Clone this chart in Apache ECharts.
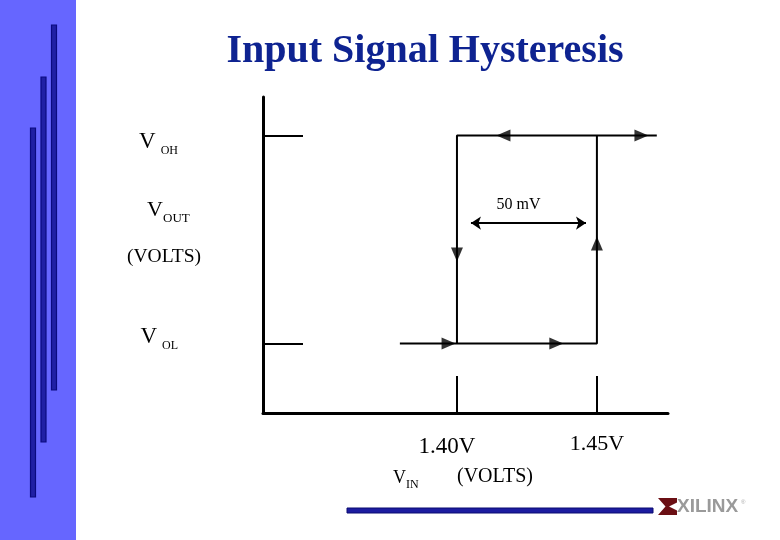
<!DOCTYPE html>
<html><head><meta charset="utf-8">
<script src="https://cdn.jsdelivr.net/npm/echarts@6/dist/echarts.min.js"></script>
<style>html,body{margin:0;padding:0;background:#fff}#c{width:780px;height:540px}</style>
</head><body><div id="c"></div>
<script>
// ---- data ----
const TITLE = 'Input Signal Hysteresis';
const X_MIN = 1.3307, X_MAX = 1.4754;          // input voltage range shown (V)
const Y_MIN = -0.334, Y_MAX = 1.185;           // output level (0 = VOL, 1 = VOH)
const X_TICK_VALUES = [1.40, 1.45];
const X_TICK_LABELS = ['1.40V', '1.45V'];
const Y_TICK_VALUES = [0, 1];
const Y_TICK_SUBS = ['OL', 'OH'];
const LOOP_X = [1.3796, 1.45, 1.45, 1.4714, 1.40, 1.40];
const LOOP_Y = [0, 0, 1, 1, 1, 0];
const ARROW_X = [1.4166, 1.4659, 1.397, 1.4355, 1.40, 1.45];
const ARROW_Y = [1, 1, 0, 0, 0.428, 0.481];
const ARROW_DIR = ['left', 'right', 'right', 'right', 'down', 'up'];
const SPAN_X = [1.405, 1.4461];
const SPAN_Y = 0.579;
const SPAN_LABEL = '50 mV';

// ---- chart ----
const SERIF = "'Liberation Serif','Times New Roman',serif";
const ROT = {up: 0, left: 90, down: 180, right: -90};
const chart = echarts.init(document.getElementById('c'), null, {renderer: 'canvas'});

function idxOf(arr, v) {
  let best = 0;
  arr.forEach((a, i) => { if (Math.abs(a - v) < Math.abs(arr[best] - v)) best = i; });
  return best;
}

const yRich = {
  v0: {fontSize: 23, lineHeight: 22, verticalAlign: 'top', fontFamily: SERIF, color: '#000', padding: [0, 0, 0, 0]},
  s0: {fontSize: 12, lineHeight: 12, verticalAlign: 'top', fontFamily: SERIF, color: '#000', padding: [14, 0, 0, 5]},
  v1: {fontSize: 23, lineHeight: 22, verticalAlign: 'top', fontFamily: SERIF, color: '#000', padding: [13, 0, 0, 0]},
  s1: {fontSize: 12, lineHeight: 12, verticalAlign: 'top', fontFamily: SERIF, color: '#000', padding: [27, 0, 0, 5]}
};
const xRich = {
  x0: {fontSize: 23, lineHeight: 23, fontFamily: SERIF, color: '#000', padding: [5, 20, 0, 0]},
  x1: {fontSize: 22, lineHeight: 22, fontFamily: SERIF, color: '#000', padding: [0, 0, 0, 0]}
};

const graphics = [
  {type: 'rect', shape: {x: 0, y: 0, width: 76, height: 540}, style: {fill: '#6666ff'}, silent: true},
  {type: 'rect', shape: {x: 51.5, y: 25, width: 5, height: 365}, style: {fill: '#2020a4', stroke: '#0a0a80', lineWidth: 1.2}},
  {type: 'rect', shape: {x: 41, y: 77, width: 5, height: 365}, style: {fill: '#2020a4', stroke: '#0a0a80', lineWidth: 1.2}},
  {type: 'rect', shape: {x: 30.5, y: 128, width: 5, height: 369}, style: {fill: '#2020a4', stroke: '#0a0a80', lineWidth: 1.2}},
  {type: 'text', x: 425, y: 52, style: {text: TITLE, font: "bold 40px " + SERIF, fill: '#0e2391', align: 'center', verticalAlign: 'middle'}},
  {type: 'text', x: 147, y: 210.6, style: {text: 'V', font: "22px " + SERIF, fill: '#000', align: 'left', verticalAlign: 'middle'}},
  {type: 'text', x: 163, y: 218.6, style: {text: 'OUT', font: "13px " + SERIF, fill: '#000', align: 'left', verticalAlign: 'middle'}},
  {type: 'text', x: 127, y: 256.4, style: {text: '(VOLTS)', font: "19.5px " + SERIF, fill: '#000', align: 'left', verticalAlign: 'middle'}},
  {type: 'text', x: 393, y: 477.9, style: {text: 'V', font: "18px " + SERIF, fill: '#000', align: 'left', verticalAlign: 'middle'}},
  {type: 'text', x: 406, y: 485, style: {text: 'IN', font: "12px " + SERIF, fill: '#000', align: 'left', verticalAlign: 'middle'}},
  {type: 'text', x: 457, y: 477.2, style: {text: '(VOLTS)', font: "20px " + SERIF, fill: '#000', align: 'left', verticalAlign: 'middle'}},
  {type: 'rect', shape: {x: 347, y: 508, width: 306, height: 5}, style: {fill: '#1c1ca0', stroke: '#0a0a70', lineWidth: 1}},
  {type: 'polygon', shape: {points: [[658, 498], [677, 498], [677, 502.5], [669, 506.5], [677, 510.5], [677, 515], [658, 515], [665.5, 506.5]]}, style: {fill: '#6b0f14'}},
  {type: 'text', x: 677, y: 507, style: {text: 'XILINX', font: "bold 19px 'Liberation Sans',Arial,sans-serif", fill: '#9a9a9a', align: 'left', verticalAlign: 'middle'}},
  {type: 'text', x: 741, y: 502, style: {text: '®', font: "6px 'Liberation Sans',Arial,sans-serif", fill: '#aaa', align: 'left', verticalAlign: 'middle'}}
];

const option = {
  animation: false,
  backgroundColor: '#fff',
  grid: {left: 263, top: 97, width: 405, height: 316, containLabel: false},
  xAxis: {
    type: 'value', min: X_MIN, max: X_MAX,
    splitLine: {show: false},
    axisLine: {onZero: false, lineStyle: {color: '#000', width: 3}},
    axisTick: {show: true, inside: true, length: 37, customValues: X_TICK_VALUES, lineStyle: {color: '#000', width: 2}},
    axisLabel: {
      show: true, margin: 20, customValues: X_TICK_VALUES,
      formatter: v => { const i = idxOf(X_TICK_VALUES, v); return '{x' + i + '|' + X_TICK_LABELS[i] + '}'; },
      rich: xRich
    }
  },
  yAxis: {
    type: 'value', min: Y_MIN, max: Y_MAX,
    splitLine: {show: false},
    axisLine: {onZero: false, lineStyle: {color: '#000', width: 3}},
    axisTick: {show: true, inside: true, length: 40, customValues: Y_TICK_VALUES, lineStyle: {color: '#000', width: 2}},
    axisLabel: {
      show: true, margin: 85, customValues: Y_TICK_VALUES, padding: [0, 0, 14, 0],
      formatter: v => { const i = idxOf(Y_TICK_VALUES, v); return '{v' + i + '|V}{s' + i + '|' + Y_TICK_SUBS[i] + '}'; },
      rich: yRich
    }
  },
  series: [
    {
      type: 'line', data: LOOP_X.map((x, i) => [x, LOOP_Y[i]]),
      showSymbol: false, symbol: 'none', lineStyle: {color: '#000', width: 2}, z: 3
    },
    {
      type: 'scatter', symbol: 'triangle', symbolSize: [12, 14],
      itemStyle: {color: '#000'}, z: 4,
      data: ARROW_X.map((x, i) => ({value: [x, ARROW_Y[i]], symbolRotate: ROT[ARROW_DIR[i]]}))
    },
    {
      type: 'lines', coordinateSystem: 'cartesian2d', polyline: false,
      symbol: ['arrow', 'arrow'], symbolSize: 10,
      lineStyle: {color: '#000', width: 2, opacity: 1},
      label: {show: true, position: 'middle', formatter: SPAN_LABEL, fontFamily: SERIF, fontSize: 16, color: '#000', distance: 10, padding: [0, 20, 0, 0]},
      data: [{coords: [[SPAN_X[0], SPAN_Y], [SPAN_X[1], SPAN_Y]]}]
    }
  ],
  graphic: graphics
};
chart.setOption(option);
</script>
</body></html>
